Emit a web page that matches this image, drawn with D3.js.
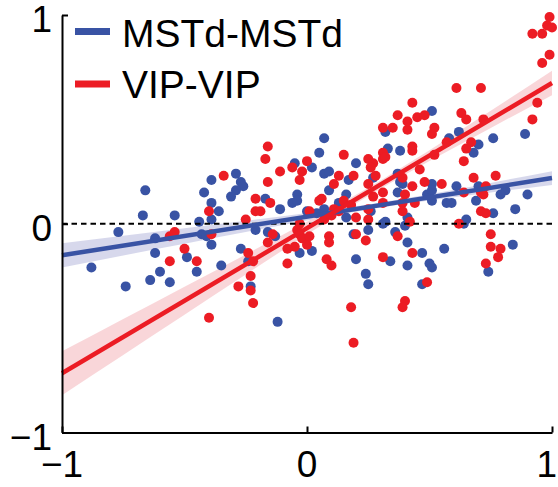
<!DOCTYPE html>
<html>
<head>
<meta charset="utf-8">
<script src="https://cdn.jsdelivr.net/npm/d3@7"></script>
<style>
html,body{margin:0;padding:0;background:#fff;}
svg{display:block;font-family:"Liberation Sans",Arial,Helvetica,sans-serif;}
</style>
</head>
<body>
<svg id="chart" width="558" height="487"></svg>
<script>
// ---- data ----
const seriesNames = ["MSTd-MSTd", "VIP-VIP"];
const seriesColors = ["#3953a4", "#ec1c24"];
const bandColors = ["#d3d4ea", "#f8d2d5"];
const xTicks = [-1, 0, 1];
const yTicks = [-1, 0, 1];

const mstdPoints = [
[-0.66,0.16],[-0.67,0.04],[-0.54,0.04],[-0.77,-0.04],[-0.62,-0.07],[-0.62,-0.14],[-0.88,-0.21],[-0.74,-0.30],[-0.64,-0.27],[-0.60,-0.23],[-0.56,-0.28],[-0.49,-0.16],[-0.43,-0.05],[-0.41,-0.06],[-0.39,-0.10],[-0.45,-0.23],[-0.35,-0.20],[-0.27,-0.12],[-0.24,-0.18],[-0.23,-0.30],[-0.12,-0.47],[-0.21,-0.03],[-0.16,-0.04],[-0.13,-0.06],[-0.03,-0.14],[0.02,-0.13],[0.20,-0.17],[0.24,-0.24],[0.25,-0.29],[0.19,-0.05],[0.25,-0.03],[0.31,0.00],[0.36,-0.04],[0.40,-0.01],[0.34,-0.18],[0.41,-0.09],[0.41,-0.20],[0.47,-0.14],[0.50,-0.19],[0.51,-0.21],[0.47,-0.29],[0.56,-0.12],[0.64,0.00],[0.74,-0.23],[0.84,-0.10],
[-0.39,0.21],[-0.42,0.15],[-0.29,0.24],[-0.27,0.20],[-0.26,0.18],[-0.29,0.16],[-0.31,0.13],[-0.05,0.29],[-0.39,0.10],[-0.36,0.06],[-0.39,0.02],[-0.17,0.12],[-0.11,0.07],[-0.04,0.14],[-0.06,0.10],[-0.04,0.11],[-0.44,0.01],
[0.07,0.41],[0.05,0.34],[0.02,0.27],[0.07,0.24],[0.09,0.25],[0.17,0.21],[0.20,0.29],[0.09,0.16],[0.16,0.14],[0.13,0.10],[0.07,0.07],[0.00,0.06],[0.04,0.05],[0.26,0.06],[0.16,0.03],[0.33,0.36],[0.27,0.22],[0.32,0.44],[0.38,0.35],[0.37,0.24],[0.38,0.20],[0.39,0.19],[0.37,0.15],[0.49,0.14],[0.41,0.03],[0.32,0.01],
[0.51,0.54],[0.89,0.43],[0.76,0.41],[0.58,0.41],[0.62,0.44],[0.70,0.38],[0.68,0.34],[0.51,0.19],[0.61,0.18],[0.70,0.18],[0.81,0.16],[0.79,0.14],[0.90,0.14],[0.57,0.10],[0.59,0.10],[0.51,0.11],[0.69,0.11],[0.85,0.07],[0.76,0.05],[0.65,0.02],[0.51,0.16]
];

const vipPoints = [
[-0.56,-0.06],[-0.54,-0.04],[-0.56,-0.18],[-0.50,-0.12],[-0.45,-0.18],[-0.40,-0.45],[-0.39,-0.05],[-0.24,-0.14],[-0.22,-0.18],[-0.23,-0.25],[-0.28,-0.30],[-0.23,-0.32],[-0.22,-0.38],[-0.16,-0.09],[-0.14,-0.05],[-0.04,-0.03],[-0.03,-0.05],[-0.02,-0.07],[-0.05,-0.11],[-0.08,-0.12],[-0.08,-0.19],[0.00,-0.10],[0.01,-0.06],[0.09,-0.06],[0.09,-0.09],[0.08,-0.17],[0.10,-0.20],[0.20,-0.05],[0.24,-0.08],[0.18,-0.40],[0.19,-0.57],[0.37,-0.06],[0.31,-0.16],[0.43,-0.14],[0.49,-0.28],[0.40,-0.37],[0.39,-0.40],[0.62,0.00],[0.75,-0.05],[0.75,-0.11],[0.79,-0.12],[0.78,-0.16],[0.73,-0.19],
[-0.16,0.37],[-0.17,0.31],[-0.34,0.23],[-0.16,0.20],[-0.11,0.25],[-0.06,0.27],[-0.02,0.25],[-0.03,0.21],[0.00,0.30],[-0.40,0.06],[-0.21,0.12],[-0.21,0.06],[-0.19,0.06],[-0.15,0.10],[-0.25,0.02],
[0.15,0.33],[0.13,0.23],[0.11,0.19],[0.19,0.23],[0.06,0.12],[0.05,0.11],[0.15,0.11],[0.11,0.07],[0.13,0.06],[0.18,0.09],[0.10,0.04],[0.07,0.02],[0.01,0.06],[0.20,0.03],[0.25,0.02],[0.25,0.31],[0.27,0.29],[0.26,0.27],[0.31,0.34],[0.31,0.31],[0.32,0.32],[0.28,0.23],[0.25,0.19],[0.31,0.15],[0.27,0.13],[0.31,0.10],[0.31,0.46],[0.35,0.46],[0.41,0.45],[0.41,0.49],[0.37,0.52],[0.43,0.58],[0.45,0.51],[0.48,0.52],[0.43,0.37],[0.43,0.35],[0.46,0.26],[0.48,0.20],[0.43,0.18],[0.39,0.22],[0.40,0.14],[0.39,0.10],[0.44,0.10],[0.39,0.06],[0.42,0.01],[0.25,0.07],
[0.63,0.53],[0.65,0.50],[0.72,0.50],[0.94,0.58],[0.92,0.50],[0.52,0.46],[0.51,0.43],[0.57,0.39],[0.67,0.39],[0.65,0.36],[0.64,0.30],[0.52,0.33],[0.68,0.22],[0.77,0.23],[0.55,0.19],[0.73,0.18],[0.64,0.15],[0.71,0.15],[0.72,0.14],[0.71,0.06],[0.73,0.05],
[0.92,0.91],[0.96,0.91],[0.98,0.95],[0.99,0.99],[1.00,0.94],[0.96,0.77],[0.99,0.81],[0.61,0.65],[0.71,0.65],[-0.03,0.00]
];

// regression fits [intercept, slope] and confidence half-widths
const fitIntercepts = [0.034, -0.021];
const fitSlopes = [0.185, 0.695];
const bandX = [-1, -0.75, -0.5, -0.25, 0, 0.25, 0.5, 0.75, 1];
const mstdBandHalf = [0.058, 0.047, 0.037, 0.027, 0.018, 0.012, 0.015, 0.023, 0.033];
const vipBandHalf = [0.105, 0.086, 0.067, 0.048, 0.031, 0.020, 0.026, 0.041, 0.059];

// ---- drawing ----
const W = 558;
const svg = d3.select("#chart");
const x = d3.scaleLinear().domain([-1, 1]).range([62, 552]);
const y = d3.scaleLinear().domain([-1, 1]).range([432.5, 15]);

const allPoints = [mstdPoints, vipPoints];
const bands = [mstdBandHalf, vipBandHalf];

// confidence bands
bands.forEach((half, i) => {
  const data = bandX.map((bx, k) => ({x: bx, m: fitIntercepts[i] + fitSlopes[i] * bx, h: half[k]}));
  svg.append("path")
    .datum(data)
    .attr("fill", bandColors[i])
    .attr("fill-opacity", 0.9)
    .attr("d", d3.area().curve(d3.curveMonotoneX)
      .x(d => x(d.x)).y0(d => y(d.m - d.h)).y1(d => y(d.m + d.h)));
});

// points
allPoints.forEach((pts, i) => {
  svg.append("g").selectAll("circle").data(pts).join("circle")
    .attr("cx", d => x(d[0])).attr("cy", d => y(d[1]))
    .attr("r", 5).attr("fill", seriesColors[i]);
});

// zero dashed line
svg.append("line")
  .attr("x1", x(-1)).attr("x2", x(1)).attr("y1", y(0)).attr("y2", y(0))
  .attr("stroke", "#000").attr("stroke-width", 2.2).attr("stroke-dasharray", "5.5,4");

// regression lines
[0, 1].forEach(i => {
  const d = [-1, 1].map(v => [v, fitIntercepts[i] + fitSlopes[i] * v]);
  svg.append("path").datum(d)
    .attr("fill", "none").attr("stroke", seriesColors[i]).attr("stroke-width", 4.5)
    .attr("d", d3.line().x(p => x(p[0])).y(p => y(p[1])));
});

// axes
const fmt = v => v < 0 ? "\u2212" + Math.abs(v) : String(v);
const xAxis = svg.append("g").attr("transform", `translate(0,${y(-1)})`)
  .call(d3.axisBottom(x).tickValues(xTicks).tickSizeInner(-6).tickSizeOuter(0).tickFormat(""));
const yAxis = svg.append("g").attr("transform", `translate(${x(-1)},0)`)
  .call(d3.axisLeft(y).tickValues(yTicks).tickSizeInner(-6).tickSizeOuter(0).tickFormat(""));
[xAxis, yAxis].forEach(a => {
  a.select(".domain").attr("stroke", "#000").attr("stroke-width", 2);
  a.selectAll(".tick line").attr("stroke", "#000").attr("stroke-width", 2);
});

// tick labels
svg.append("g").selectAll("text").data(xTicks).join("text")
  .attr("x", d => x(d)).attr("y", 477)
  .attr("text-anchor", "middle").attr("font-size", 37).attr("fill", "#000")
  .text(fmt)
  .each(function() {
    // keep the label inside the picture
    const b = this.getBBox();
    const over = b.x + b.width - (W - 1);
    if (over > 0) d3.select(this).attr("x", +d3.select(this).attr("x") - over);
  });
svg.append("g").selectAll("text").data(yTicks).join("text")
  .attr("x", 52).attr("y", d => y(d) + 17)
  .attr("text-anchor", "end").attr("font-size", 37).attr("fill", "#000")
  .text(fmt);

// legend
const legendY = [31.5, 84];
const legendBase = [47, 98];
seriesNames.forEach((name, i) => {
  svg.append("line")
    .attr("x1", 75).attr("x2", 110).attr("y1", legendY[i]).attr("y2", legendY[i])
    .attr("stroke", seriesColors[i]).attr("stroke-width", 7);
  svg.append("text")
    .attr("x", 122).attr("y", legendBase[i])
    .attr("font-size", 39).attr("fill", "#000")
    .text(name);
});
</script>
</body>
</html>
